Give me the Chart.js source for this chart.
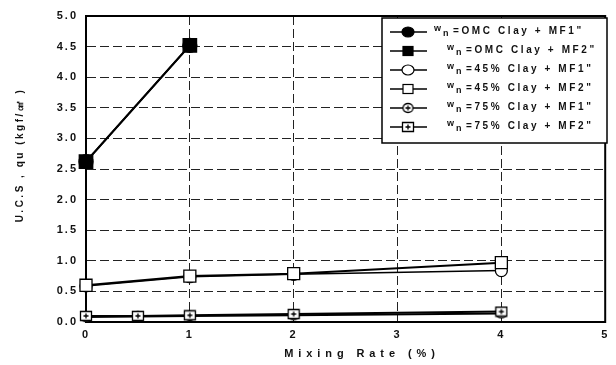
<!DOCTYPE html>
<html>
<head>
<meta charset="utf-8">
<script src="https://cdn.jsdelivr.net/npm/chart.js@4/dist/chart.umd.min.js"></script>
<style>
  html, body { margin: 0; padding: 0; background: #fff; }
  #wrap { width: 616px; height: 365px; position: relative; }
</style>
</head>
<body>
<div id="wrap"><canvas id="c"></canvas></div>
<script>
// Axis ticks
const xTicks = [0, 1, 2, 3, 4, 5];
const yTicks = [0, 0.5, 1, 1.5, 2, 2.5, 3, 3.5, 4, 4.5, 5];

// Mixing rate (%) per series
const omcRate = [0, 1];
const w45Rate = [0, 1, 2, 4];
const w75Rate = [0, 0.5, 1, 2, 4];

// Unconfined compressive strength qu (kgf/cm²)
const omcMF1 = [2.62, 4.52];
const omcMF2 = [2.62, 4.52];
const w45MF1 = [0.59, 0.74, 0.78, 0.84];
const w45MF2 = [0.60, 0.75, 0.79, 0.97];
const w75MF1 = [0.08, 0.09, 0.10, 0.11, 0.14];
const w75MF2 = [0.10, 0.10, 0.11, 0.13, 0.17];

// Legend labels (text after the subscripted "w n")
const seriesLabels = [
  '=OMC Clay + MF1"',
  '=OMC Clay + MF2"',
  '=45% Clay + MF1"',
  '=45% Clay + MF2"',
  '=75% Clay + MF1"',
  '=75% Clay + MF2"'
];

const FONT = '"Liberation Sans", Arial, sans-serif';

// Small marker with a plus inside (circle or square outline)
function plusMarker(shape, w, h) {
  const c = document.createElement('canvas');
  c.width = w + 3; c.height = h + 3;
  const g = c.getContext('2d');
  const cx = c.width / 2, cy = c.height / 2;
  g.lineWidth = 1.3; g.strokeStyle = '#000'; g.fillStyle = '#fff';
  g.beginPath();
  if (shape === 'circle') g.ellipse(cx, cy, w / 2, h / 2, 0, 0, Math.PI * 2);
  else g.rect(cx - w / 2, cy - h / 2, w, h);
  g.fill(); g.stroke();
  g.beginPath();
  g.moveTo(cx - 2.5, cy); g.lineTo(cx + 2.5, cy);
  g.moveTo(cx, cy - 2.5); g.lineTo(cx, cy + 2.5);
  g.stroke();
  return c;
}
const circPlus = plusMarker('circle', 10, 9);
const rectPlus = plusMarker('rect', 11, 9);

const pts = (xs, ys) => xs.map((x, i) => ({ x: x, y: ys[i] }));

const base = { borderColor: '#000', borderWidth: 2, pointBorderColor: '#000', pointBorderWidth: 1.3, clip: false, tension: 0 };

const datasets = [
  Object.assign({}, base, { label: seriesLabels[0], data: pts(omcRate, omcMF1), pointStyle: 'circle', pointRadius: 7, pointBackgroundColor: '#000', order: 2 }),
  Object.assign({}, base, { label: seriesLabels[1], data: pts(omcRate, omcMF2), pointStyle: 'rect', pointRadius: 9.5, pointBackgroundColor: '#000', order: 1 }),
  Object.assign({}, base, { label: seriesLabels[2], data: pts(w45Rate, w45MF1), pointStyle: 'circle', pointRadius: 6, pointBackgroundColor: '#fff', borderWidth: 1.5, order: 2 }),
  Object.assign({}, base, { label: seriesLabels[3], data: pts(w45Rate, w45MF2), pointStyle: 'rect', pointRadius: 8.5, pointBackgroundColor: '#fff', order: 1 }),
  Object.assign({}, base, { label: seriesLabels[4], data: pts(w75Rate, w75MF1), pointStyle: circPlus, pointBackgroundColor: '#fff', order: 2 }),
  Object.assign({}, base, { label: seriesLabels[5], data: pts(w75Rate, w75MF2), pointStyle: rectPlus, pointBackgroundColor: '#fff', order: 1 })
];

// Ticks use spaced-out lettering
const spacingPlugin = {
  id: 'spacing',
  beforeDraw(chart) { chart.ctx.letterSpacing = '2px'; }
};

// Solid frame around the plot area, drawn over the dashed grid
const framePlugin = {
  id: 'frame',
  beforeDatasetsDraw(chart) {
    const { ctx, chartArea: a } = chart;
    ctx.save();
    ctx.setLineDash([]);
    ctx.strokeStyle = '#000';
    ctx.lineWidth = 2;
    ctx.strokeRect(a.left, a.top, a.right - a.left, a.bottom - a.top);
    ctx.restore();
  }
};

// Axis titles
const titlePlugin = {
  id: 'titles',
  afterDraw(chart) {
    const { ctx } = chart;
    ctx.save();
    ctx.fillStyle = '#111';
    ctx.textBaseline = 'middle';
    ctx.textAlign = 'center';
    ctx.font = 'bold 11px ' + FONT;
    ctx.letterSpacing = '4.9px';
    ctx.fillText('Mixing Rate (%)', 362, 354);
    ctx.translate(20, 155);
    ctx.rotate(-Math.PI / 2);
    ctx.font = 'bold 10px ' + FONT;
    ctx.letterSpacing = '2.5px';
    ctx.fillText('U.C.S , qu (kgf/㎠ )', 0, 0);
    ctx.restore();
  }
};

// Boxed legend with subscripted w n
const legendPlugin = {
  id: 'boxLegend',
  afterDatasetsDraw(chart) {
    const { ctx } = chart;
    const x0 = 382, y0 = 18, x1 = 607, y1 = 143;
    ctx.save();
    ctx.setLineDash([]);
    ctx.fillStyle = '#fff';
    ctx.fillRect(x0, y0, x1 - x0, y1 - y0);
    ctx.strokeStyle = '#000';
    ctx.lineWidth = 1.5;
    ctx.strokeRect(x0, y0, x1 - x0, y1 - y0);

    chart.data.datasets.forEach((ds, i) => {
      const y = 32 + i * 19;
      const mx = 408;
      ctx.strokeStyle = '#000';
      ctx.lineWidth = 1.5;
      ctx.beginPath(); ctx.moveTo(390, y); ctx.lineTo(427, y); ctx.stroke();
      ctx.lineWidth = 1.2;
      const st = ds.pointStyle;
      if (st === 'circle') {
        ctx.fillStyle = ds.pointBackgroundColor;
        ctx.beginPath(); ctx.ellipse(mx, y, 6, 5, 0, 0, Math.PI * 2); ctx.fill(); ctx.stroke();
      } else if (st === 'rect') {
        ctx.fillStyle = ds.pointBackgroundColor;
        ctx.fillRect(mx - 5, y - 4.5, 10, 9); ctx.strokeRect(mx - 5, y - 4.5, 10, 9);
      } else {
        ctx.drawImage(st, mx - st.width / 2, y - st.height / 2);
      }
      const tx = i === 0 ? 434 : 447;
      ctx.fillStyle = '#111';
      ctx.textBaseline = 'middle';
      ctx.textAlign = 'left';
      ctx.letterSpacing = '2.6px';
      ctx.font = 'bold 9px ' + FONT;
      ctx.fillText('w', tx, y - 3);
      ctx.fillText('n', tx + 9, y + 2);
      ctx.font = 'bold 10px ' + FONT;
      ctx.fillText(ds.label, tx + 19, y - 1);
    });
    ctx.restore();
  }
};

new Chart(document.getElementById('c'), {
  type: 'line',
  data: { datasets: datasets },
  plugins: [spacingPlugin, framePlugin, legendPlugin, titlePlugin],
  options: {
    responsive: true,
    maintainAspectRatio: false,
    animation: false,
    layout: { padding: { left: 0, right: 9, top: 16, bottom: 0 } },
    plugins: { legend: { display: false }, tooltip: { enabled: false } },
    scales: {
      x: {
        type: 'linear', min: 0, max: 5,
        afterBuildTicks: s => { s.ticks = xTicks.map(v => ({ value: v })); },
        afterFit: s => { s.height = 43; },
        grid: { color: '#222', lineWidth: 1, drawTicks: false },
        border: { display: true, color: '#000', width: 2, dash: [9, 4] },
        ticks: { padding: 6, color: '#111', maxRotation: 0, font: { family: FONT, size: 11, weight: 'bold' }, callback: v => String(v) }
      },
      y: {
        type: 'linear', min: 0, max: 5,
        afterBuildTicks: s => { s.ticks = yTicks.map(v => ({ value: v })); },
        afterFit: s => { s.width = 86; },
        grid: { color: '#222', lineWidth: 1, drawTicks: false },
        border: { display: true, color: '#000', width: 2, dash: [9, 4] },
        ticks: { padding: 8, color: '#111', font: { family: FONT, size: 11, weight: 'bold' }, callback: v => v.toFixed(1) }
      }
    }
  }
});
</script>
</body>
</html>
